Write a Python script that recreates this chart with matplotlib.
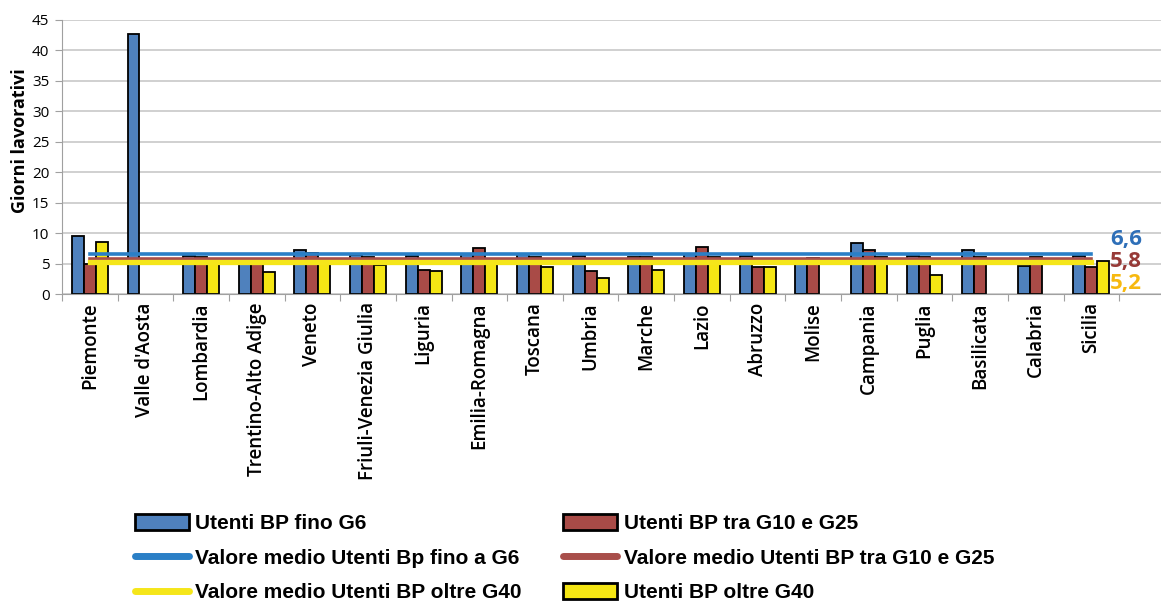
import numpy as np
import matplotlib.pyplot as plt
from matplotlib.patches import Patch
from matplotlib.lines import Line2D

# Regioni e valori (giorni lavorativi); nan = dato assente
regioni = ['Piemonte', "Valle d'Aosta", 'Lombardia', 'Trentino-Alto Adige', 'Veneto',
           'Friuli-Venezia Giulia', 'Liguria', 'Emilia-Romagna', 'Toscana', 'Umbria',
           'Marche', 'Lazio', 'Abruzzo', 'Molise', 'Campania', 'Puglia', 'Basilicata',
           'Calabria', 'Sicilia']
nan = np.nan
fino_g6 = [9.5, 42.7, 6.3, 5.0, 7.2, 6.4, 6.2, 6.5, 6.5, 6.2, 6.0, 6.5, 6.2, 5.6, 8.3, 6.2, 7.2, 4.6, 6.2]
g10_g25 = [5.0, nan, 6.0, 5.6, 6.8, 6.0, 3.9, 7.5, 6.0, 3.7, 6.0, 7.8, 4.4, 5.9, 7.2, 6.0, 6.0, 6.0, 4.4]
oltre_g40 = [8.5, nan, 5.8, 3.6, 5.6, 4.7, 3.7, 5.3, 4.4, 2.6, 3.9, 6.0, 4.4, nan, 6.0, 3.1, nan, nan, 5.5]
medie = [6.6, 5.8, 5.2]
medie_txt = ['6,6', '5,8', '5,2']

c_blu, c_rosso, c_giallo = '#4f81bd', '#a94b47', '#f5e614'
c_lblu, c_lrosso, c_lgiallo = '#2a7fc6', '#a84e4a', '#f5e61a'
c_txt = ['#2e6fb8', '#973a37', '#f7b90f']

plt.rcParams['font.family'] = ['Open Sans', 'DejaVu Sans']

fig = plt.figure(figsize=(11.61, 6.05), dpi=100)
ax = fig.add_axes([0.0534, 0.514, 0.9466, 0.453])

x = np.arange(len(regioni))
w = 0.215
ax.bar(x - w, fino_g6, w, color=c_blu, edgecolor='black', linewidth=1.3, zorder=2)
ax.bar(x, g10_g25, w, color=c_rosso, edgecolor='black', linewidth=1.3, zorder=2)
ax.bar(x + w, oltre_g40, w, color=c_giallo, edgecolor='black', linewidth=1.3, zorder=2)

# linee dei valori medi
ax.plot(x, [medie[0]] * len(x), color=c_lblu, lw=2.6, zorder=3)
ax.plot(x, [medie[1]] * len(x), color=c_lrosso, lw=2.6, zorder=3)
ax.plot(x, [medie[2]] * len(x), color=c_lgiallo, lw=3.8, zorder=3)

for t, c, yy in zip(medie_txt, c_txt, [9.0, 5.4, 1.8]):
    ax.text(18.33, yy, t, color=c, fontsize=16, fontweight='bold', va='center', ha='left')

ax.set_xlim(-0.5, 19.25)
ax.set_ylim(0, 45)
ax.set_yticks(range(0, 46, 5))
ax.yaxis.grid(True, color='#c8c8c8', lw=1.2, zorder=0)
ax.set_axisbelow(True)

ax.set_xticks(np.arange(-0.5, 19, 1))
ax.set_xticklabels([])
ax.set_xticks(x, minor=True)
ax.set_xticklabels(regioni, minor=True, rotation=90, fontsize=13.5, fontweight='semibold')
ax.tick_params(axis='x', which='minor', length=0, pad=6)
ax.tick_params(axis='x', which='major', length=5, color='#a0a0a0')
ax.tick_params(axis='y', length=5, color='#a0a0a0', labelsize=11, pad=4)

for s in ['top', 'right']:
    ax.spines[s].set_visible(False)
ax.spines['left'].set_color('#a0a0a0')
ax.spines['bottom'].set_color('#a0a0a0')

ax.set_ylabel('Giorni lavorativi', fontsize=13, fontweight='bold')
ax.yaxis.set_label_coords(-0.03, 0.56)

handles = [
    Patch(facecolor=c_blu, edgecolor='black', linewidth=2),
    Line2D([0], [0], color=c_lblu, lw=5, solid_capstyle='round'),
    Line2D([0], [0], color=c_lgiallo, lw=5, solid_capstyle='round'),
    Patch(facecolor=c_rosso, edgecolor='black', linewidth=2),
    Line2D([0], [0], color=c_lrosso, lw=5, solid_capstyle='round'),
    Patch(facecolor=c_giallo, edgecolor='black', linewidth=2),
]
labels = ['Utenti BP fino G6', 'Valore medio Utenti Bp fino a G6', 'Valore medio Utenti BP oltre G40',
          'Utenti BP tra G10 e G25', 'Valore medio Utenti BP tra G10 e G25', 'Utenti BP oltre G40']
fig.legend(handles, labels, ncol=2, loc='upper left', bbox_to_anchor=(0.107, 0.168),
           frameon=False, handlelength=2.6, handleheight=0.85, handletextpad=0.3,
           labelspacing=0.72, columnspacing=2.0, borderpad=0,
           prop={'family': ['Liberation Sans', 'DejaVu Sans'], 'weight': 'bold', 'size': 15})

fig.savefig('out.png', dpi=100)
